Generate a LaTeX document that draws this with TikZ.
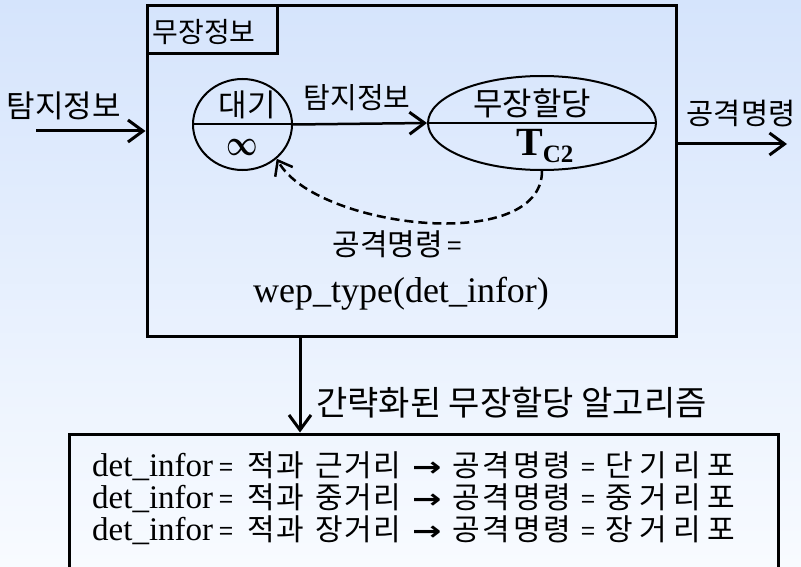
\documentclass[tikz,border=0pt]{standalone}
\usepackage{fontspec}
\setmainfont{Liberation Serif}
\newfontfamily\kr{Noto Sans CJK KR}
\newfontfamily\krw[LetterSpace=22]{Noto Sans CJK KR}
\newfontfamily\krm[LetterSpace=10]{Noto Sans CJK KR}
\newfontfamily\krv[LetterSpace=5]{Noto Sans CJK KR}
\newfontfamily\dv{DejaVu Sans}
\usetikzlibrary{shapes.geometric,arrows.meta}
\definecolor{bgtop}{RGB}{213,228,252}
\definecolor{bgbot}{RGB}{248,251,255}
\newcommand{\krs}[1]{\kr\fontsize{#1}{#1}\selectfont}
\newcommand{\rms}[1]{\fontsize{#1}{#1}\selectfont}
\newcommand{\boxline}[2]{%
  \makebox[127pt][l]{\rms{33}det\_infor}%
  \makebox[28pt][l]{\krs{25}=}%
  \makebox[68pt][l]{\krv\fontsize{30}{30}\selectfont 적과}%
  \makebox[97pt][l]{\krv\fontsize{30}{30}\selectfont #1}%
  \makebox[40pt][l]{\dv\bfseries\fontsize{27}{27}\selectfont\scalebox{1.3}[1]{→}}%
  \makebox[126pt][l]{\krm\fontsize{30}{30}\selectfont 공격명령}%
  \makebox[27pt][l]{\hspace{3pt}\krs{25}=}%
  {\krw\fontsize{30}{30}\selectfont #2}}
\begin{document}
\begin{tikzpicture}[x=1pt,y=-1pt,
  frame/.style={draw, line width=3pt, inner sep=0pt, rectangle},
  state/.style={draw, line width=2pt, ellipse, inner sep=0pt},
  arr/.style={line width=3pt, -{Straight Barb[length=15pt,width=22pt,line width=3pt]}},
  darr/.style={line width=2.5pt, dash pattern=on 9pt off 5pt,
    -{Straight Barb[length=13pt,width=20pt,line width=2.5pt]}},
  lbl/.style={inner sep=0pt}]
\useasboundingbox (0,0) rectangle (801,567);
\shade[top color=bgtop, bottom color=bgbot] (0,0) rectangle (801,567);

% main block
\node[frame, minimum width=529pt, minimum height=330pt] (main) at (411.5,171) {};
\node[frame, minimum width=130pt, minimum height=48pt] (title) at (212,30) {};
\node[lbl, font=\krs{28}] (titletxt) at (204,32) {무장정보};

% states
\node[state, minimum width=99pt, minimum height=91pt] (wait) at (242.5,124.5) {};
\draw[line width=2pt] (wait.west) -- (wait.east);
\node[lbl, font=\krs{31}] (waittxt) at (247,105) {대기};
\node[lbl] (inf) at (242,147) {\scalebox{1.1}[1.45]{\fontsize{40}{40}\selectfont\boldmath$\infty$}};

\node[state, minimum width=228pt, minimum height=94pt] (assign) at (542,123) {};
\draw[line width=2pt] (assign.west) -- (assign.east);
\node[lbl, font=\krs{32}] (assigntxt) at (532,103) {무장할당};
\node[lbl, anchor=base west] (tc) at (516,156) {\rms{40}\textbf{T}\raisebox{-7pt}{\rms{25}\textbf{C2}}};

% input arrow
\coordinate (inL) at (36,131);
\draw[arr] (inL) -- (inL -| main.west);
\node[lbl, font=\krs{31}] (intxt) at (64,106) {탐지정보};

% internal arrow
\draw[arr, line width=2.5pt] (wait.east) -- (assign.west);
\node[lbl, font=\krs{29}] (midtxt) at (357,98) {탐지정보};

% output arrow
\coordinate (outR) at (787,144);
\draw[arr] (main.east |- outR) -- (outR);
\node[lbl, font=\krs{29.5}] (outtxt) at (741,114) {공격명령};

% feedback
\draw[darr] (assign.south) .. controls (542,255) and (315,228) .. (wait.-45);

% formula
\node[lbl, anchor=center] (cmd) at (397,244) {{\krs{30}공격명령}{\krs{26}\,=}};
\node[lbl, anchor=base] (wep) at (401,302) {\rms{36}wep\_type(det\_infor)};

% lower box
\node[frame, minimum width=709pt, minimum height=170pt] (algo) at (423.5,519) {};
\coordinate (vx) at (300,0);
\draw[arr] (vx |- main.south) -- (vx |- algo.north);
\node[lbl, anchor=west, font=\krs{34}] (algotxt) at (316,403) {간략화된 무장할당 알고리즘};

\node[lbl, anchor=base west] (l1) at (92,476) {\boxline{근거리}{단기리포}};
\node[lbl, anchor=base west] (l2) at (92,508) {\boxline{중거리}{중거리포}};
\node[lbl, anchor=base west] (l3) at (92,540) {\boxline{장거리}{장거리포}};
\end{tikzpicture}
\end{document}
